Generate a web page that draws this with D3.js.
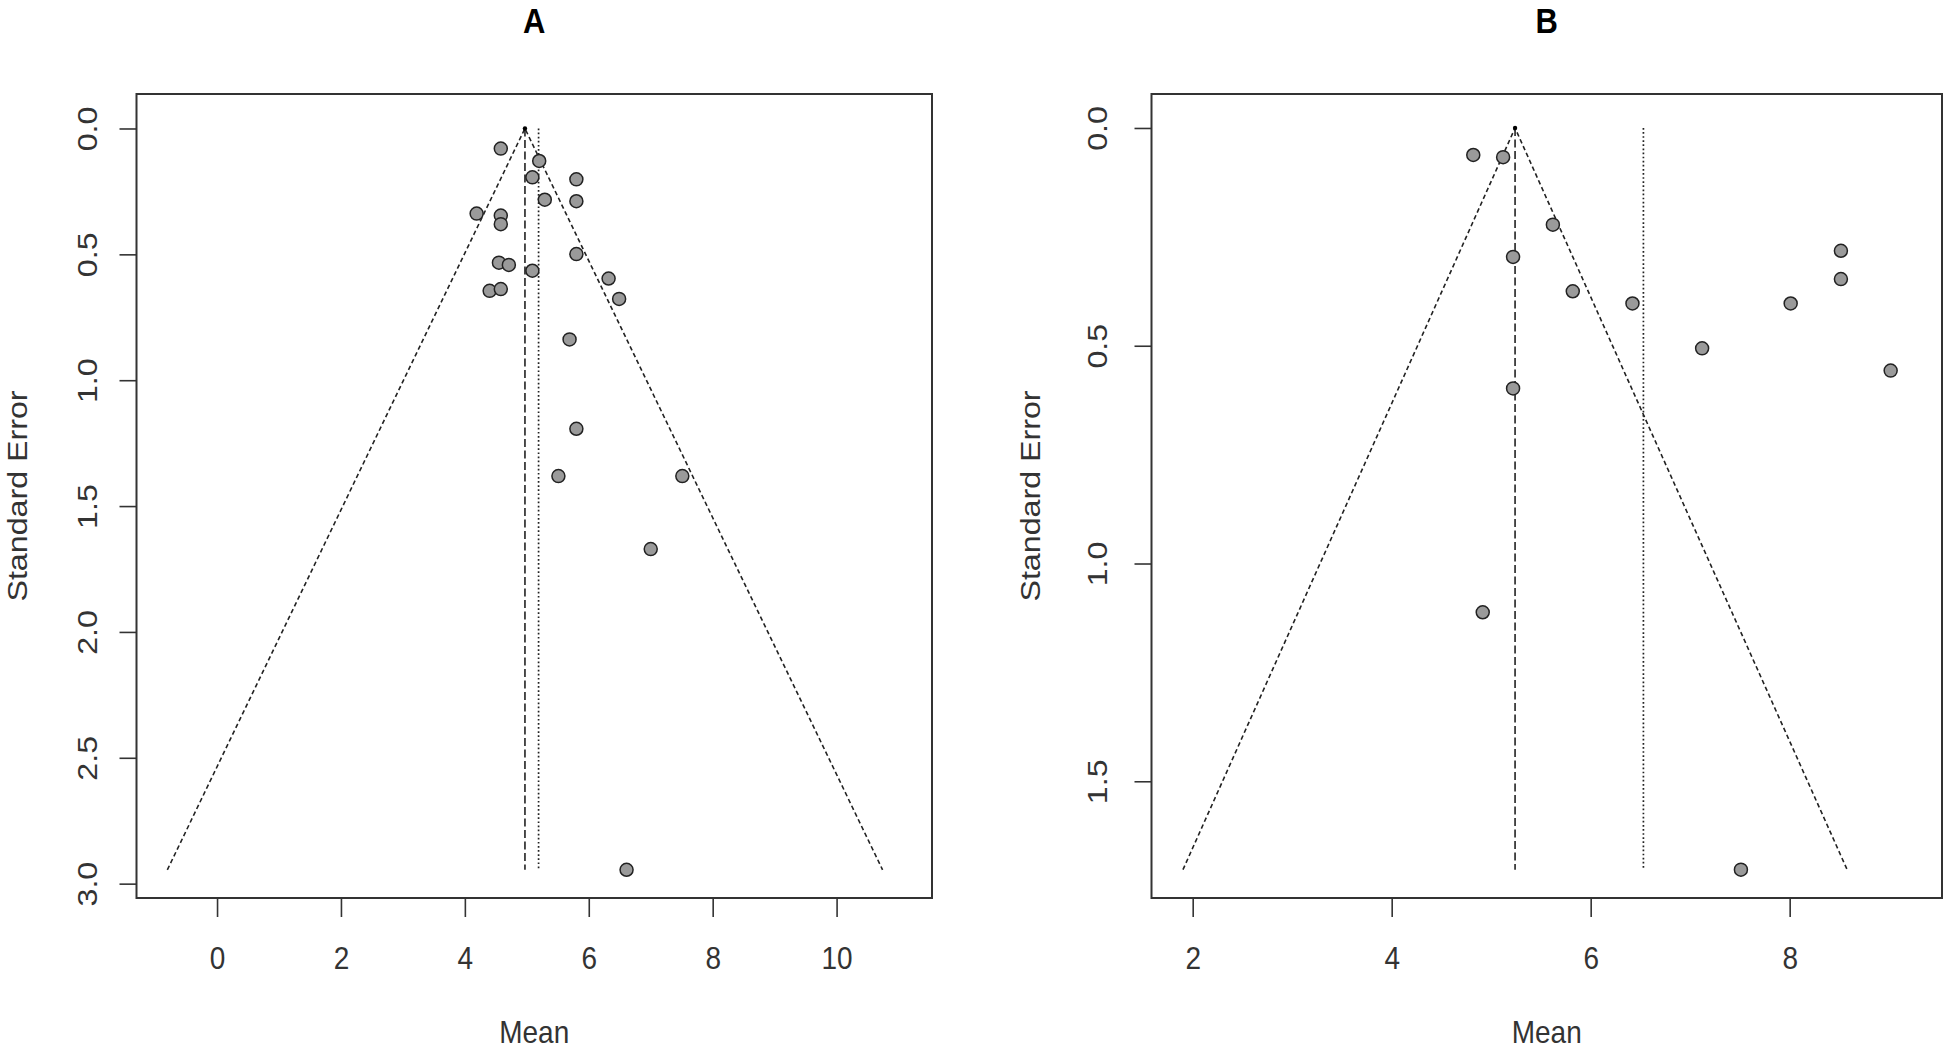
<!DOCTYPE html>
<html>
<head>
<meta charset="utf-8">
<script src="https://cdn.jsdelivr.net/npm/d3@7"></script>
<style>
  body { margin: 0; background: #fff; }
  svg { display: block; }
  text { font-family: "Liberation Sans", Arial, sans-serif; fill: #333; }
</style>
</head>
<body>
<div id="viz"></div>
<script>
// funnel plot data (mean vs standard error)
const meanA = [4.58, 5.20, 5.09, 5.80, 5.29, 5.80, 4.19, 4.58, 4.58, 5.80, 4.55, 4.71,
  5.09, 6.32, 6.49, 4.40, 4.58, 5.69, 5.80, 5.51, 7.51, 7.00, 6.61];
const seA = [0.080, 0.129, 0.194, 0.202, 0.283, 0.289, 0.338, 0.346, 0.380, 0.499, 0.533, 0.542,
  0.565, 0.596, 0.677, 0.645, 0.638, 0.838, 1.193, 1.381, 1.381, 1.671, 2.945];
const centerA = 4.97;   // dashed line / funnel apex
const meanLineA = 5.19; // dotted line
const maxSeA = 2.945;

const meanB = [4.82, 5.12, 5.62, 5.22, 5.82, 6.42, 8.515, 8.515, 8.01, 7.12, 9.015, 5.22, 4.915, 7.51];
const seB = [0.062, 0.067, 0.222, 0.296, 0.375, 0.403, 0.282, 0.347, 0.403, 0.506, 0.557, 0.598, 1.112, 1.703];
const centerB = 5.24;
const meanLineB = 6.53;
const maxSeB = 1.703;

const ticksXA = [0, 2, 4, 6, 8, 10];
const ticksYA = [0, 0.5, 1, 1.5, 2, 2.5, 3];
const ticksXB = [2, 4, 6, 8];
const ticksYB = [0, 0.5, 1, 1.5];

const W = 1946, H = 1051;
const STRETCH = 1.15; // the original image is a little taller than wide
const svg = d3.select('#viz').append('svg').attr('width', W).attr('height', H);

function panel(opt) {
  const x = d3.scaleLinear().domain(opt.xDomain).range([opt.left, opt.right]);
  const y = d3.scaleLinear().domain(opt.yDomain).range([opt.top, opt.bottom]);
  const g = svg.append('g');

  // funnel sides
  const lo = opt.center - 1.96 * opt.maxSe, hi = opt.center + 1.96 * opt.maxSe;
  const line = d3.line().x(d => x(d[0])).y(d => y(d[1]));
  g.append('path')
    .attr('d', line([[lo, opt.maxSe], [opt.center, 0], [hi, opt.maxSe]]))
    .attr('fill', 'none').attr('stroke', '#222').attr('stroke-width', 1.6)
    .attr('stroke-dasharray', '4.5,3');

  // vertical dashed line at the pooled estimate
  g.append('line')
    .attr('x1', x(opt.center)).attr('x2', x(opt.center))
    .attr('y1', y(0)).attr('y2', y(opt.maxSe))
    .attr('stroke', '#222').attr('stroke-width', 1.6)
    .attr('stroke-dasharray', '8,3.5');

  // dotted line at the mean
  g.append('line')
    .attr('x1', x(opt.meanLine)).attr('x2', x(opt.meanLine))
    .attr('y1', y(0)).attr('y2', y(opt.maxSe))
    .attr('stroke', '#222').attr('stroke-width', 1.7)
    .attr('stroke-dasharray', '1.7,2.4');

  g.append('circle').attr('cx', x(opt.center)).attr('cy', y(0)).attr('r', 2.2).attr('fill', '#000');

  // points
  g.selectAll('circle.pt')
    .data(opt.means.map((m, i) => [m, opt.ses[i]]))
    .enter().append('circle')
    .attr('class', 'pt')
    .attr('cx', d => x(d[0])).attr('cy', d => y(d[1]))
    .attr('r', 6.5)
    .attr('fill', '#9a9a9a').attr('stroke', '#222').attr('stroke-width', 1.5);

  // box
  g.append('rect')
    .attr('x', opt.left).attr('y', opt.top)
    .attr('width', opt.right - opt.left).attr('height', opt.bottom - opt.top)
    .attr('fill', 'none').attr('stroke', '#333').attr('stroke-width', 2);

  // x axis
  const ax = g.append('g').attr('transform', `translate(0,${opt.bottom})`)
    .call(d3.axisBottom(x).tickValues(opt.ticksX).tickSize(19).tickFormat(d3.format('d')));
  ax.select('.domain').remove();
  ax.selectAll('line').attr('stroke', '#333').attr('stroke-width', 1.6);
  ax.selectAll('text')
    .attr('y', null).attr('dy', null)
    .attr('font-size', 28)
    .attr('transform', `translate(0,71) scale(1,${STRETCH})`);

  // y axis
  const ay = g.append('g').attr('transform', `translate(${opt.left},0)`)
    .call(d3.axisLeft(y).tickValues(opt.ticksY).tickSize(17).tickFormat(d3.format('.1f')));
  ay.select('.domain').remove();
  ay.selectAll('line').attr('stroke', '#333').attr('stroke-width', 1.6);
  ay.selectAll('text')
    .attr('x', null).attr('dy', null)
    .attr('font-size', 28)
    .attr('text-anchor', 'middle')
    .attr('transform', `translate(${opt.yLabelX - opt.left},0) scale(1,${STRETCH}) rotate(-90)`);

  const cx = (opt.left + opt.right) / 2;
  const cy = (opt.top + opt.bottom) / 2;

  g.append('text')
    .attr('transform', `translate(${cx},33) scale(1,${STRETCH})`)
    .attr('text-anchor', 'middle').attr('font-size', 31).attr('font-weight', 'bold')
    .style('fill', '#000')
    .text(opt.title);

  g.append('text')
    .attr('transform', `translate(${cx},1043) scale(1,${STRETCH})`)
    .attr('text-anchor', 'middle').attr('font-size', 28)
    .text('Mean');

  g.append('text')
    .attr('transform', `translate(${opt.yTitleX},${cy}) scale(1,${STRETCH}) rotate(-90)`)
    .attr('text-anchor', 'middle').attr('font-size', 28)
    .text('Standard Error');
}

panel({
  title: 'A', means: meanA, ses: seA, center: centerA, meanLine: meanLineA, maxSe: maxSeA,
  xDomain: [-1.30, 11.54], yDomain: [-0.137, 3.057],
  left: 136.5, right: 932, top: 94, bottom: 898,
  ticksX: ticksXA, ticksY: ticksYA, yLabelX: 96.5, yTitleX: 27
});

panel({
  title: 'B', means: meanB, ses: seB, center: centerB, meanLine: meanLineB, maxSe: maxSeB,
  xDomain: [1.586, 9.531], yDomain: [-0.078, 1.768],
  left: 1151.5, right: 1942, top: 94, bottom: 898,
  ticksX: ticksXB, ticksY: ticksYB, yLabelX: 1106.5, yTitleX: 1040
});
</script>
</body>
</html>
